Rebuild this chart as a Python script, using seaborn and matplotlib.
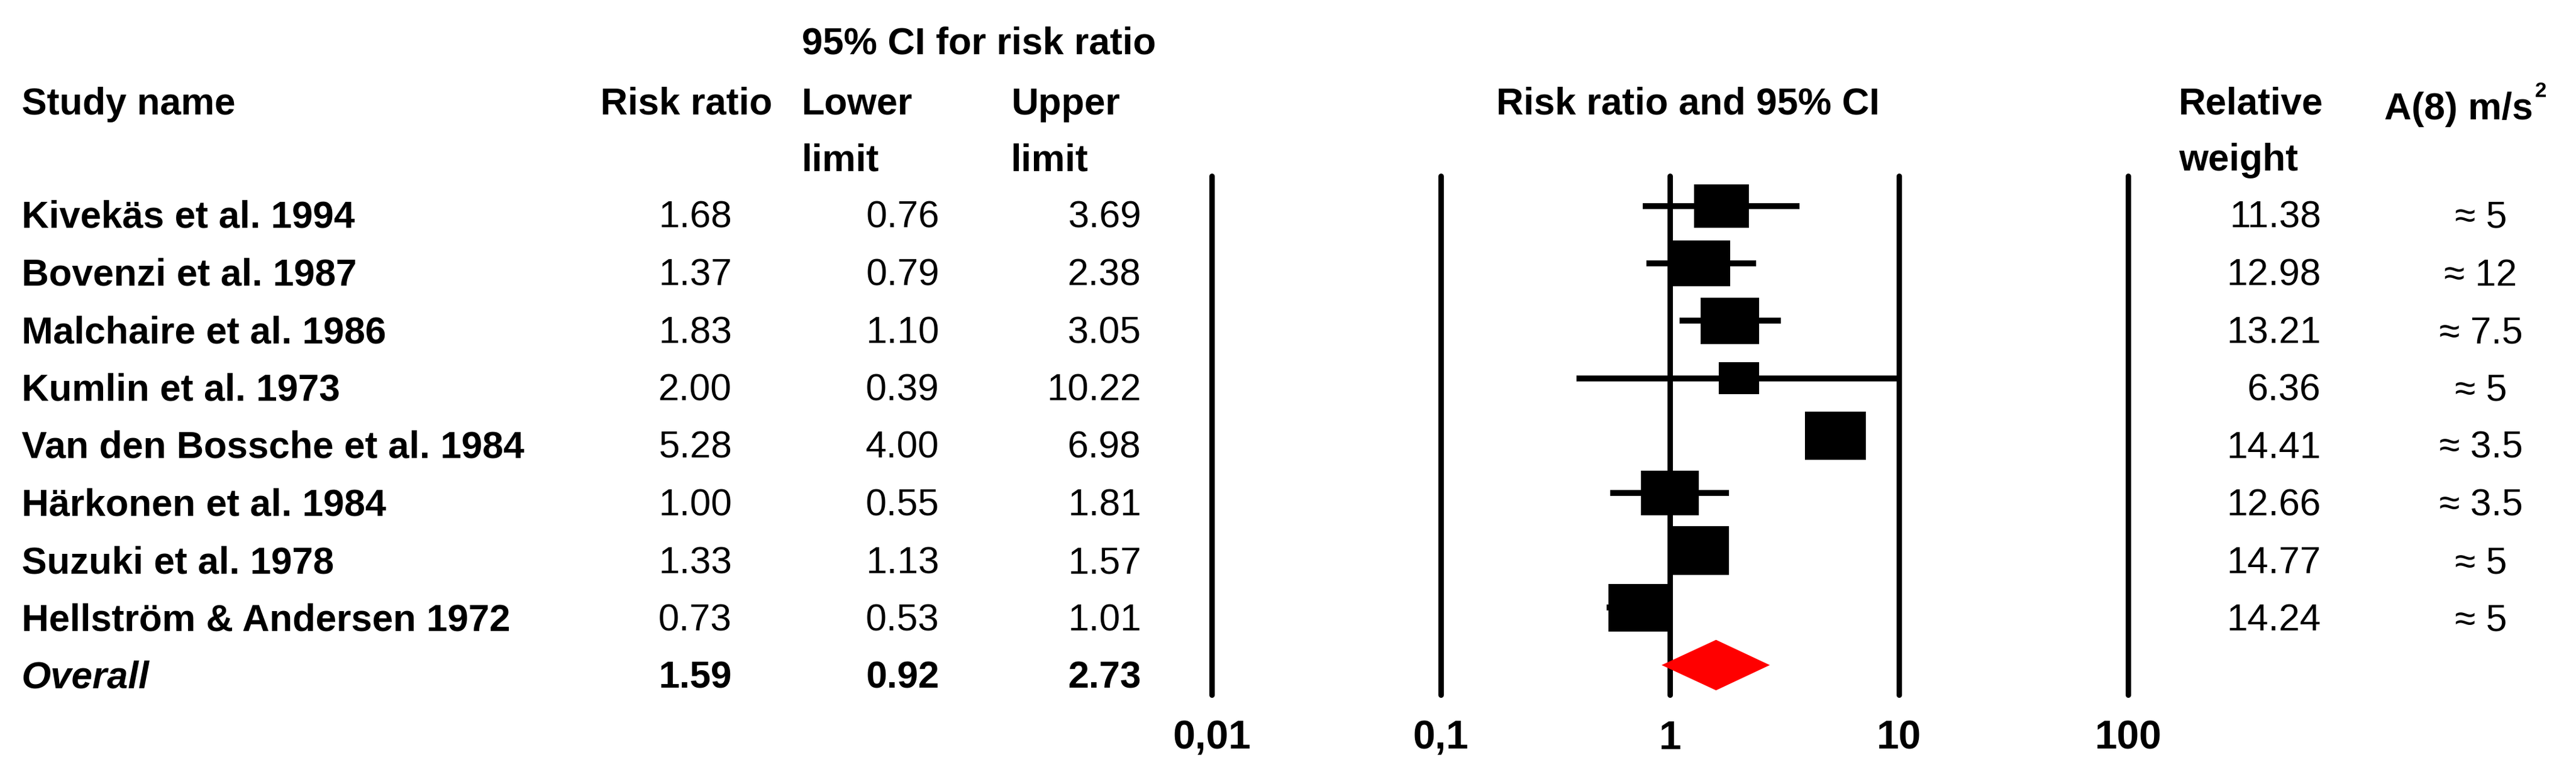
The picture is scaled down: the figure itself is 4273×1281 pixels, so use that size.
import numpy as np
import pandas as pd
import matplotlib
matplotlib.use('Agg')
import matplotlib.pyplot as plt
from matplotlib.path import Path
import seaborn as sns

# forest plot data
studies = ['Kivekäs et al. 1994', 'Bovenzi et al. 1987', 'Malchaire et al. 1986',
           'Kumlin et al. 1973', 'Van den Bossche et al. 1984', 'Härkonen et al. 1984',
           'Suzuki et al. 1978', 'Hellström & Andersen 1972']
risk_ratio = [1.68, 1.37, 1.83, 2.00, 5.28, 1.00, 1.33, 0.73]
lower = [0.76, 0.79, 1.10, 0.39, 4.00, 0.55, 1.13, 0.53]
upper = [3.69, 2.38, 3.05, 10.22, 6.98, 1.81, 1.57, 1.01]
weights = [11.38, 12.98, 13.21, 6.36, 14.41, 12.66, 14.77, 14.24]
a8 = ['≈ 5', '≈ 12', '≈ 7.5', '≈ 5', '≈ 3.5', '≈ 3.5', '≈ 5', '≈ 5']
overall_label = 'Overall'
overall = [1.59, 0.92, 2.73]
ticks = [0.01, 0.1, 1, 10, 100]
tick_labels = ['0,01', '0,1', '1', '10', '100']

sns.set_theme(style='white')
plt.rcParams['font.family'] = ['Liberation Sans', 'DejaVu Sans']
plt.rcParams['text.color'] = 'black'
plt.rcParams['xtick.color'] = 'black'

W, H = 4273, 1281
fig = plt.figure(figsize=(W / 100, H / 100), dpi=100)

# text layer in pixel coordinates
bg = fig.add_axes([0, 0, 1, 1])
bg.set_xlim(0, W)
bg.set_ylim(H, 0)
bg.axis('off')

fs = 45
hb = dict(fontsize=fs, fontweight='bold', va='baseline')
bg.text(1330, 90, '95% CI for risk ratio', ha='left', **hb)
bg.text(36, 190, 'Study name', ha='left', **hb)
bg.text(996, 190, 'Risk ratio', ha='left', **hb)
bg.text(1330, 190, 'Lower', ha='left', **hb)
bg.text(1677, 190, 'Upper', ha='left', **hb)
bg.text(1330, 283, 'limit', ha='left', **hb)
bg.text(1677, 283, 'limit', ha='left', **hb)
bg.text(2800, 190, 'Risk ratio and 95% CI', ha='center', **hb)
bg.text(3614, 190, 'Relative', ha='left', **hb)
bg.text(3614, 283, 'weight', ha='left', **hb)
a8_head = bg.text(3955, 198, 'A(8) m/s', ha='left', **hb)
bg.annotate('2', xy=(1, 1), xycoords=a8_head, xytext=(2, 12),
            textcoords='offset points', ha='left', va='top',
            fontsize=25, fontweight='bold')

row0, step = 378, 95.5
for i, name in enumerate(studies):
    yb = row0 + i * step
    bg.text(36, yb, name, ha='left', **hb)
    bg.text(1214, yb, f'{risk_ratio[i]:.2f}', ha='right', fontsize=fs, va='baseline')
    bg.text(1558, yb, f'{lower[i]:.2f}', ha='right', fontsize=fs, va='baseline')
    bg.text(1893, yb, f'{upper[i]:.2f}', ha='right', fontsize=fs, va='baseline')
    bg.text(3850, yb, f'{weights[i]:.2f}', ha='right', fontsize=fs, va='baseline')
    bg.text(4115, yb, a8[i], ha='center', fontsize=fs, va='baseline')

yb = row0 + len(studies) * step
bg.text(36, yb, overall_label, ha='left', fontstyle='italic', **hb)
bg.text(1214, yb, f'{overall[0]:.2f}', ha='right', **hb)
bg.text(1558, yb, f'{overall[1]:.2f}', ha='right', **hb)
bg.text(1893, yb, f'{overall[2]:.2f}', ha='right', **hb)

# forest panel
x0, x1 = 2010, 3530
ytop, ybot = 292, 1153
ax = fig.add_axes([x0 / W, (H - ybot) / H, (x1 - x0) / W, (ybot - ytop) / H])
ax.set_xscale('log')
ax.set_xlim(0.01, 100)
mk0, mstep = 342, 95.2
ax.set_ylim((ybot - mk0) / mstep, (ytop - mk0) / mstep)
for s in ax.spines.values():
    s.set_visible(False)
ax.patch.set_alpha(0)

for t in ticks:
    ax.axvline(t, color='black', lw=6.5, clip_on=False, zorder=1)

df = pd.DataFrame({'study': studies, 'rr': risk_ratio, 'lo': lower,
                   'hi': upper, 'w': weights, 'row': np.arange(len(studies))})
ax.hlines(df['row'], df['lo'], df['hi'], color='black', lw=7, zorder=2)

box = Path([(-1, -0.787), (1, -0.787), (1, 0.787), (-1, 0.787), (-1, -0.787)],
           [Path.MOVETO, Path.LINETO, Path.LINETO, Path.LINETO, Path.CLOSEPOLY])
smax = 371 * max(weights)
sns.scatterplot(data=df, x='rr', y='row', size='w', sizes=(0, smax),
                size_norm=(0, max(weights)), marker=box, color='black',
                edgecolor='none', linewidth=0, legend=False, ax=ax, zorder=3)

yo = len(studies)
dh = 0.44
ax.fill([overall[1], overall[0], overall[2], overall[0]],
        [yo, yo - dh, yo, yo + dh], color='#ff0000', lw=0, zorder=3)

ax.set_xticks(ticks)
ax.set_xticklabels(tick_labels, fontsize=48, fontweight='bold')
ax.minorticks_off()
ax.tick_params(axis='x', length=0, pad=30)
ax.set_yticks([])
ax.set_xlabel('')
ax.set_ylabel('')

fig.savefig('out.png', dpi=100, facecolor='white')
